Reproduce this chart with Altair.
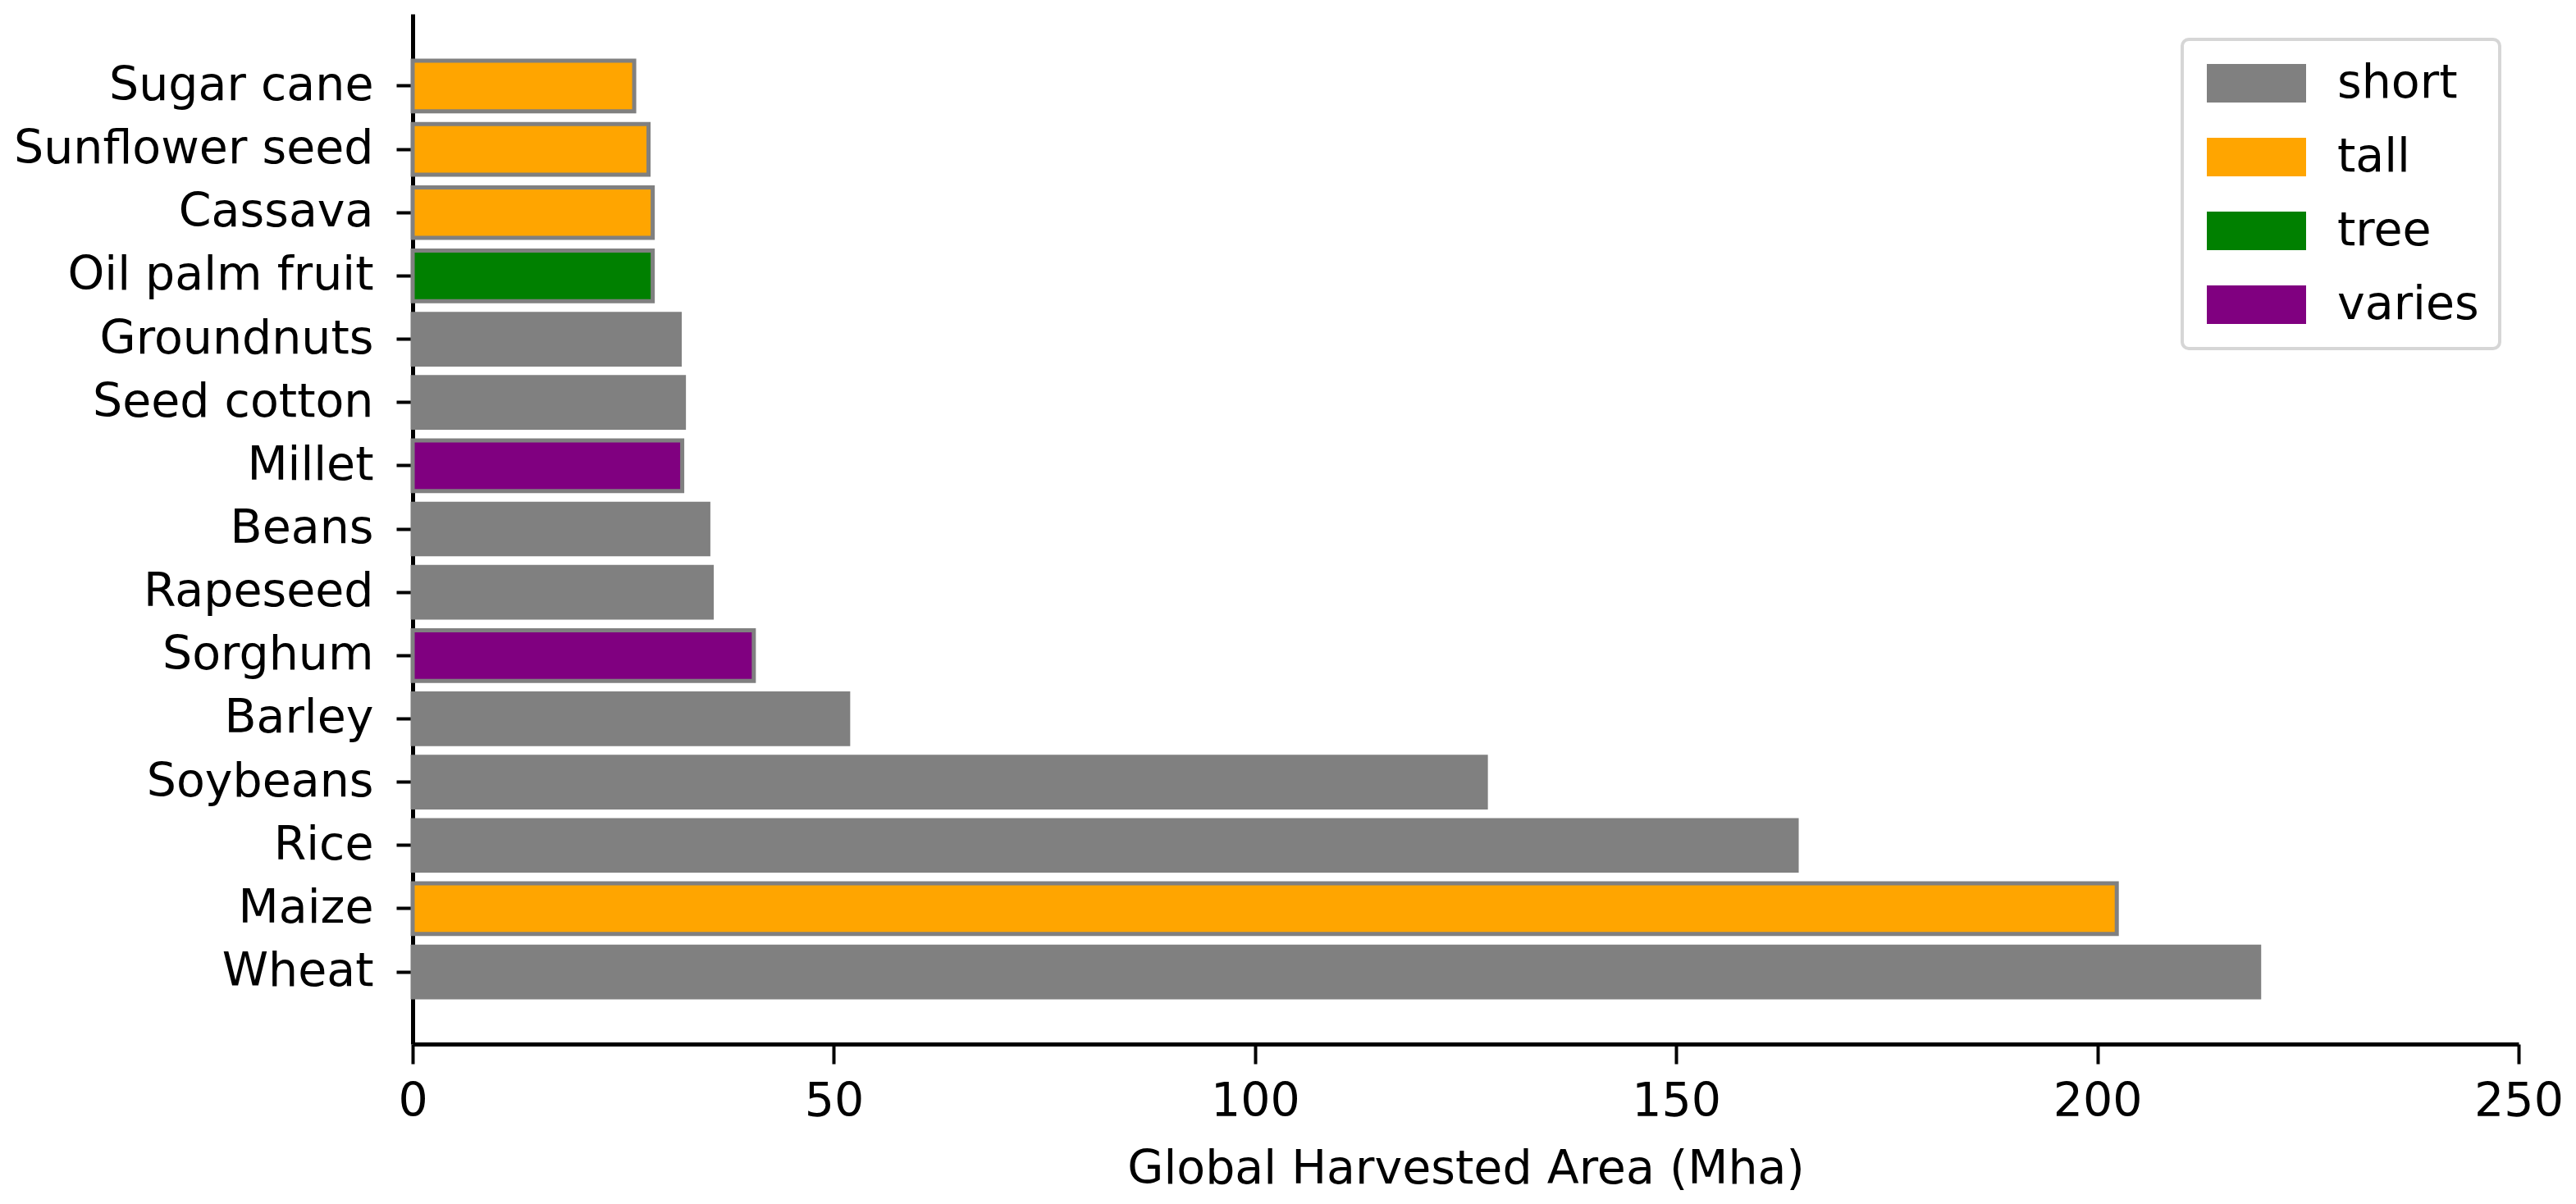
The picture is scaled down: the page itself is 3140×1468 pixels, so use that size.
import altair as alt
import pandas as pd

crops = ["Sugar cane", "Sunflower seed", "Cassava", "Oil palm fruit", "Groundnuts",
         "Seed cotton", "Millet", "Beans", "Rapeseed", "Sorghum", "Barley",
         "Soybeans", "Rice", "Maize", "Wheat"]
area = [26.3, 28.0, 28.5, 28.5, 31.7, 32.2, 32.0, 35.1, 35.5, 40.5, 51.7,
        127.4, 164.3, 202.3, 219.2]
height_type = ["tall", "tall", "tall", "tree", "short", "short", "varies", "short",
               "short", "varies", "short", "short", "short", "tall", "short"]

type_domain = ["short", "tall", "tree", "varies"]
type_colors = ["#808080", "#ffa500", "#008000", "#800080"]
x_ticks = [0, 50, 100, 150, 200, 250]

df = pd.DataFrame({"crop": crops, "area": area, "type": height_type})

FONT = "DejaVu Sans"
FS = 57

chart = alt.Chart(df).mark_bar(stroke="#808080", strokeWidth=5).encode(
    y=alt.Y("crop:N", sort=crops, title=None,
            scale=alt.Scale(paddingInner=0.2, paddingOuter=0.74),
            axis=alt.Axis(labelFontSize=FS, labelFont=FONT, labelColor="#000000",
                          labelPadding=28, tickSize=20, tickWidth=4,
                          tickColor="#000000", domainColor="#000000",
                          domainWidth=5, grid=False, labelLimit=1000)),
    x=alt.X("area:Q", title="Global Harvested Area (Mha)",
            scale=alt.Scale(domain=[0, 250], nice=False),
            axis=alt.Axis(values=x_ticks, labelFontSize=FS, labelFont=FONT,
                          labelColor="#000000", labelPadding=18, tickSize=24,
                          labelFlush=False,
                          tickWidth=4, tickColor="#000000", domainColor="#000000",
                          domainWidth=5, grid=False, titleFontSize=FS,
                          titleFont=FONT, titleFontWeight="normal",
                          titleColor="#000000", titlePadding=26)),
    color=alt.Color("type:N", title=None,
                    scale=alt.Scale(domain=type_domain, range=type_colors),
                    legend=alt.Legend(orient="none", legendX=2157, legendY=31,
                                      symbolType="M-1,-1L4.149,-1L4.149,1L-1,1Z",
                                      symbolSize=2209, symbolStrokeWidth=0,
                                      symbolOpacity=1,
                                      labelFontSize=FS, labelFont=FONT,
                                      labelColor="#000000", labelOffset=107,
                                      labelLimit=1000,
                                      rowPadding=32, padding=25,
                                      strokeColor="#d6d6d6", fillColor="#ffffff",
                                      cornerRadius=8)),
).properties(
    width=2567, height=1256,
    autosize=alt.AutoSizeParams(type="none"),
    padding={"left": 495, "top": 9, "right": 62, "bottom": 187},
).configure(font=FONT).configure_view(stroke=None).configure_legend(strokeWidth=4)

chart.save("out.html", embed_options={"renderer": "svg", "actions": False})
